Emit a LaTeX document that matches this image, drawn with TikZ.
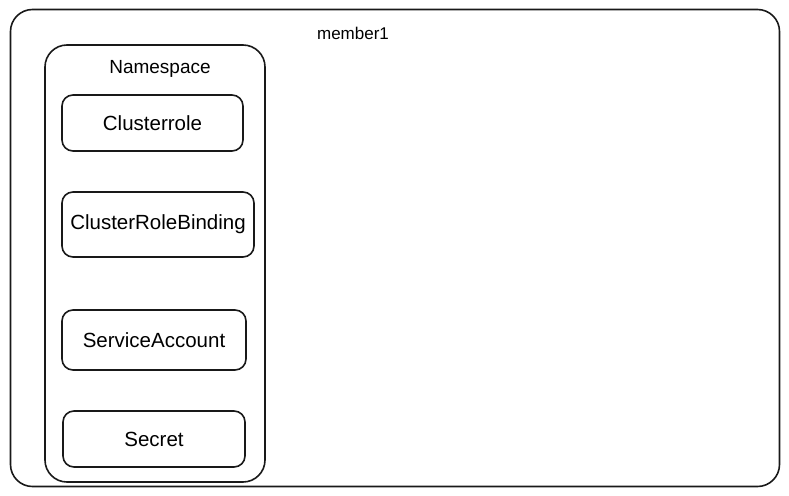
\documentclass[tikz,border=0pt]{standalone}
\usepackage{fontspec}
\setmainfont{Liberation Sans}
\begin{document}
\begin{tikzpicture}[x=1pt,y=-1pt,
  container/.style={draw=black!90, line width=1.6pt, rounded corners=22pt, inner sep=0pt},
  item/.style={draw=black!90, line width=1.6pt, rounded corners=11pt, inner sep=0pt, font=\fontsize{20.5}{24}\selectfont},
  caption/.style={font=\fontsize{19}{22}\selectfont, inner sep=0pt}]
\useasboundingbox (0,0) rectangle (789,495);
\node[container, minimum width=769pt, minimum height=477pt] (member) at (395,248) {};
\node[caption, font=\fontsize{17}{20}\selectfont] (memberlbl) at (353,33) {member1};
\node[container, minimum width=220pt, minimum height=437pt] (ns) at (155,263.5) {};
\node[caption] (nslbl) at (160,69) {Namespace};
\node[item, minimum width=181pt, minimum height=56pt] (cr) at (152.5,123) {Clusterrole};
\node[item, minimum width=192pt, minimum height=65pt] (crb) at (158,224.5) {ClusterRoleBinding};
\node[item, minimum width=184pt, minimum height=60pt] (sa) at (154,340) {ServiceAccount};
\node[item, minimum width=182pt, minimum height=56pt] (sec) at (154,439) {Secret};
\end{tikzpicture}
\end{document}
